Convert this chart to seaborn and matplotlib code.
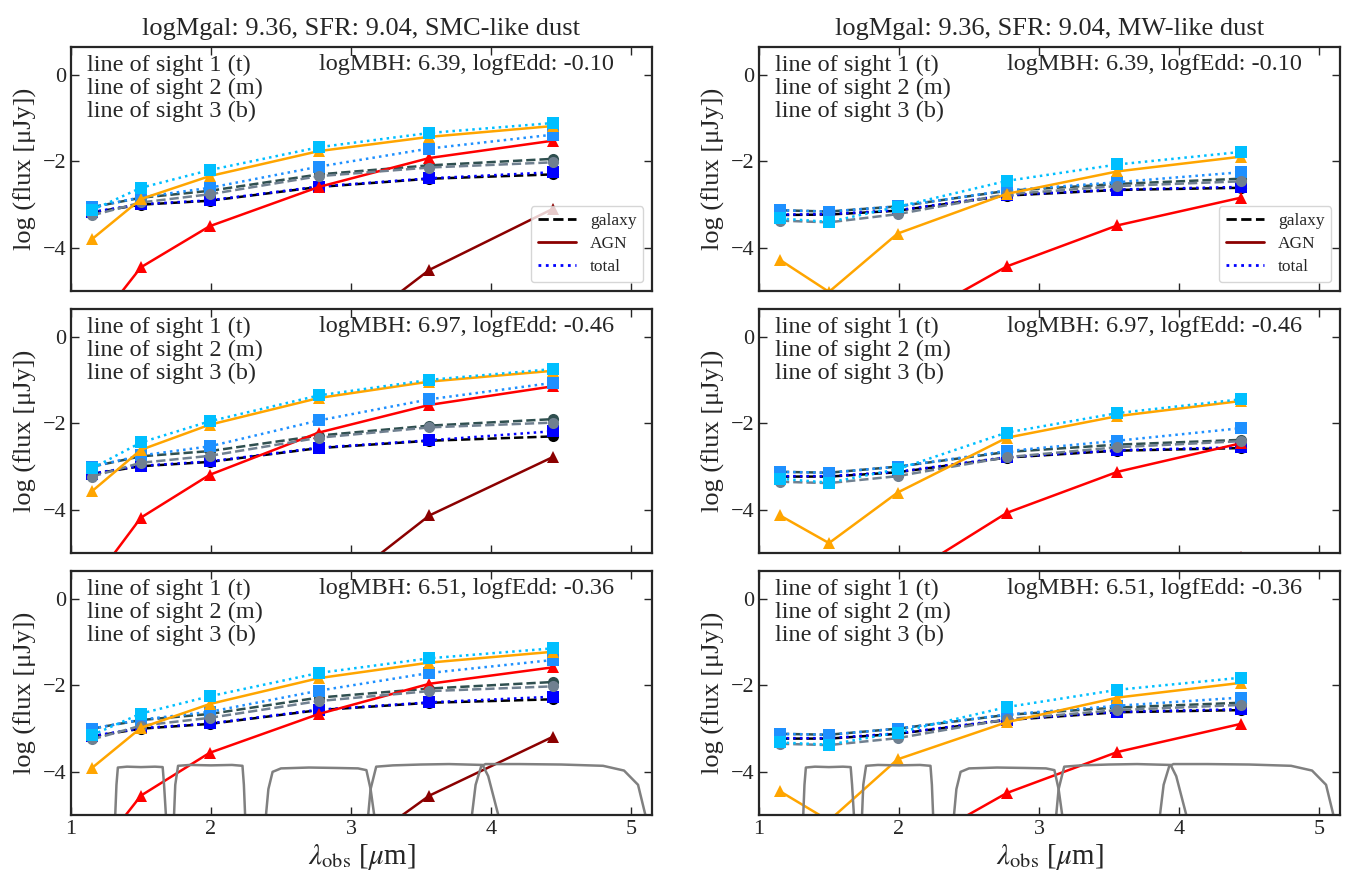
import numpy as np
import seaborn as sns
import matplotlib.pyplot as plt
from matplotlib.lines import Line2D

# observed wavelengths of the NIRCam bands [micron]
wave = [1.15, 1.50, 1.99, 2.77, 3.56, 4.44]

# log flux per line of sight (t, m, b); rows = logMBH cases, cols = dust law
# SMC-like dust
smc1_gal = [[-3.18, -3.00, -2.91, -2.59, -2.40, -2.30],
            [-3.06, -2.84, -2.68, -2.30, -2.09, -1.94],
            [-3.25, -2.95, -2.76, -2.34, -2.14, -2.02]]
smc1_agn = [[-9.5, -8.3, -7.4, -6.47, -4.51, -3.10],
            [-5.9, -4.45, -3.50, -2.59, -1.92, -1.52],
            [-3.80, -2.87, -2.34, -1.76, -1.43, -1.18]]
smc1_tot = [[-3.17, -2.99, -2.90, -2.58, -2.39, -2.25],
            [-3.06, -2.83, -2.61, -2.12, -1.70, -1.38],
            [-3.13, -2.61, -2.20, -1.67, -1.34, -1.11]]

smc2_gal = [[-3.17, -2.99, -2.89, -2.57, -2.40, -2.30],
            [-3.00, -2.76, -2.64, -2.28, -2.05, -1.90],
            [-3.23, -2.91, -2.75, -2.33, -2.09, -1.98]]
smc2_agn = [[-9.0, -7.9, -7.0, -6.13, -4.13, -2.78],
            [-5.7, -4.18, -3.19, -2.21, -1.57, -1.14],
            [-3.57, -2.61, -2.03, -1.41, -1.03, -0.78]]
smc2_tot = [[-3.16, -2.98, -2.88, -2.56, -2.39, -2.18],
            [-3.00, -2.74, -2.53, -1.93, -1.44, -1.06],
            [-3.04, -2.44, -1.95, -1.35, -0.99, -0.74]]

smc3_gal = [[-3.18, -3.00, -2.89, -2.57, -2.40, -2.32],
            [-3.00, -2.80, -2.66, -2.28, -2.07, -1.92],
            [-3.25, -2.93, -2.75, -2.36, -2.13, -2.02]]
smc3_agn = [[-9.4, -8.2, -7.3, -6.4, -4.55, -3.19],
            [-6.0, -4.55, -3.56, -2.66, -1.96, -1.58],
            [-3.91, -2.98, -2.43, -1.83, -1.47, -1.22]]
smc3_tot = [[-3.17, -2.99, -2.88, -2.56, -2.39, -2.26],
            [-3.00, -2.79, -2.61, -2.12, -1.71, -1.41],
            [-3.15, -2.65, -2.25, -1.71, -1.37, -1.14]]

# MW-like dust
mw1_gal = [[-3.24, -3.23, -3.14, -2.79, -2.66, -2.61],
           [-3.13, -3.16, -3.04, -2.68, -2.52, -2.40],
           [-3.37, -3.41, -3.22, -2.76, -2.57, -2.46]]
mw1_agn = [[-10.5, -9.6, -8.6, -7.4, -6.3, -5.4],
           [-7.8, -7.0, -5.85, -4.43, -3.48, -2.84],
           [-4.28, -5.02, -3.67, -2.75, -2.23, -1.89]]
mw1_tot = [[-3.23, -3.22, -3.13, -2.78, -2.65, -2.59],
           [-3.13, -3.16, -3.04, -2.67, -2.48, -2.25],
           [-3.32, -3.40, -3.05, -2.45, -2.07, -1.78]]

mw2_gal = [[-3.23, -3.23, -3.13, -2.79, -2.63, -2.57],
           [-3.12, -3.14, -3.00, -2.66, -2.49, -2.38],
           [-3.35, -3.38, -3.22, -2.78, -2.55, -2.41]]
mw2_agn = [[-10.0, -9.2, -8.2, -7.0, -5.9, -5.1],
           [-7.6, -6.8, -5.65, -4.07, -3.12, -2.46],
           [-4.13, -4.77, -3.60, -2.33, -1.83, -1.48]]
mw2_tot = [[-3.22, -3.22, -3.12, -2.78, -2.62, -2.55],
           [-3.12, -3.14, -3.00, -2.64, -2.40, -2.11],
           [-3.28, -3.37, -3.06, -2.21, -1.76, -1.44]]

mw3_gal = [[-3.23, -3.23, -3.12, -2.80, -2.62, -2.57],
           [-3.12, -3.14, -3.00, -2.68, -2.51, -2.40],
           [-3.35, -3.38, -3.22, -2.78, -2.57, -2.45]]
mw3_agn = [[-10.4, -9.5, -8.5, -7.3, -6.2, -5.3],
           [-7.9, -7.1, -5.92, -4.49, -3.54, -2.89],
           [-4.45, -5.13, -3.71, -2.85, -2.28, -1.94]]
mw3_tot = [[-3.22, -3.22, -3.11, -2.79, -2.61, -2.55],
           [-3.12, -3.14, -3.00, -2.67, -2.47, -2.28],
           [-3.32, -3.37, -3.09, -2.50, -2.10, -1.82]]

col_titles = ['logMgal: 9.36, SFR: 9.04, SMC-like dust',
              'logMgal: 9.36, SFR: 9.04, MW-like dust']
bh_labels = ['logMBH: 6.39, logfEdd: -0.10',
             'logMBH: 6.97, logfEdd: -0.46',
             'logMBH: 6.51, logfEdd: -0.36']
los_text = 'line of sight 1 (t)\nline of sight 2 (m)\nline of sight 3 (b)'

gal_colors = ['black', 'darkslategray', 'slategray']
agn_colors = ['darkred', 'red', 'orange']
tot_colors = ['blue', 'dodgerblue', 'deepskyblue']

# filter transmission curves as drawn (scaled into the flux axis)
f150_x = [1.315, 1.325, 1.335, 1.40, 1.50, 1.60, 1.655, 1.665, 1.68]
f150_y = [-5.1, -4.3, -3.90, -3.88, -3.89, -3.88, -3.89, -4.3, -5.1]
f200_x = [1.735, 1.745, 1.765, 1.85, 2.00, 2.15, 2.225, 2.235, 2.245]
f200_y = [-5.1, -4.3, -3.86, -3.84, -3.85, -3.84, -3.86, -4.3, -5.1]
f277_x = [2.39, 2.41, 2.44, 2.50, 2.70, 2.90, 3.05, 3.11, 3.14, 3.17]
f277_y = [-5.1, -4.4, -4.0, -3.92, -3.90, -3.91, -3.92, -3.96, -4.4, -5.1]
f356_x = [3.12, 3.14, 3.18, 3.30, 3.50, 3.70, 3.94, 3.98, 4.02, 4.06]
f356_y = [-5.1, -4.4, -3.88, -3.85, -3.83, -3.82, -3.84, -4.1, -4.6, -5.1]
f444_x = [3.86, 3.89, 3.93, 3.96, 4.20, 4.50, 4.80, 4.95, 5.05, 5.11]
f444_y = [-5.1, -4.3, -3.87, -3.82, -3.82, -3.83, -3.86, -3.97, -4.3, -5.1]

sns.set_style('ticks')
plt.rcParams['font.family'] = ['Liberation Serif', 'DejaVu Serif']
plt.rcParams['mathtext.fontset'] = 'stix'
plt.rcParams['axes.linewidth'] = 1.6

fig, axes = plt.subplots(3, 2, figsize=(13.54, 8.76), dpi=100)
fig.subplots_adjust(left=0.0524, right=0.9897, bottom=0.0696, top=0.9463,
                    wspace=0.184, hspace=0.074)

panels = [[(smc1_gal, smc1_agn, smc1_tot), (mw1_gal, mw1_agn, mw1_tot)],
          [(smc2_gal, smc2_agn, smc2_tot), (mw2_gal, mw2_agn, mw2_tot)],
          [(smc3_gal, smc3_agn, smc3_tot), (mw3_gal, mw3_agn, mw3_tot)]]

filters = [(f150_x, f150_y), (f200_x, f200_y), (f277_x, f277_y),
           (f356_x, f356_y), (f444_x, f444_y)]

for r in range(3):
    for c in range(2):
        ax = axes[r, c]
        gal, agn, tot = panels[r][c]
        for i in range(3):
            sns.lineplot(x=wave, y=gal[i], ax=ax, color=gal_colors[i], ls='--',
                         lw=1.8, marker='o', markersize=8, mec=gal_colors[i], mew=0)
            sns.lineplot(x=wave, y=agn[i], ax=ax, color=agn_colors[i], ls='-',
                         lw=1.8, marker='^', markersize=8, mec=agn_colors[i], mew=0)
            sns.lineplot(x=wave, y=tot[i], ax=ax, color=tot_colors[i], ls=':',
                         lw=1.8, marker='s', markersize=8, mec=tot_colors[i], mew=0)
        if r == 2:
            for fx, fy in filters:
                ax.plot(fx, fy, color='gray', lw=1.8)

        ax.set_xlim(1, 5.15)
        ax.set_ylim(-5, 0.65)
        ax.set_xticks([1, 2, 3, 4, 5])
        ax.set_yticks([0, -2, -4])
        ax.tick_params(direction='in', top=True, right=True, length=6,
                       width=1, labelsize=16)
        ax.set_ylabel('log (flux [μJy])', fontsize=19, labelpad=4)
        if r == 2:
            ax.set_xlabel(r'$\lambda_{\rm obs}$ [$\mu$m]', fontsize=21, labelpad=2)
        else:
            ax.set_xlabel('')
            ax.set_xticklabels([])
        if r == 0:
            ax.set_title(col_titles[c], fontsize=19, pad=9)
            handles = [Line2D([], [], color='black', ls='--', lw=2),
                       Line2D([], [], color='darkred', ls='-', lw=2),
                       Line2D([], [], color='blue', ls=':', lw=2)]
            ax.legend(handles, ['galaxy', 'AGN', 'total'], loc='lower right',
                      fontsize=12.5, handlelength=2.2, labelspacing=0.4)
        ax.text(0.028, 0.97, los_text, transform=ax.transAxes, ha='left',
                va='top', fontsize=17.5, linespacing=1.12)
        ax.text(0.935, 0.97, bh_labels[r], transform=ax.transAxes, ha='right',
                va='top', fontsize=17.5)

fig.savefig('out.png', dpi=100)
